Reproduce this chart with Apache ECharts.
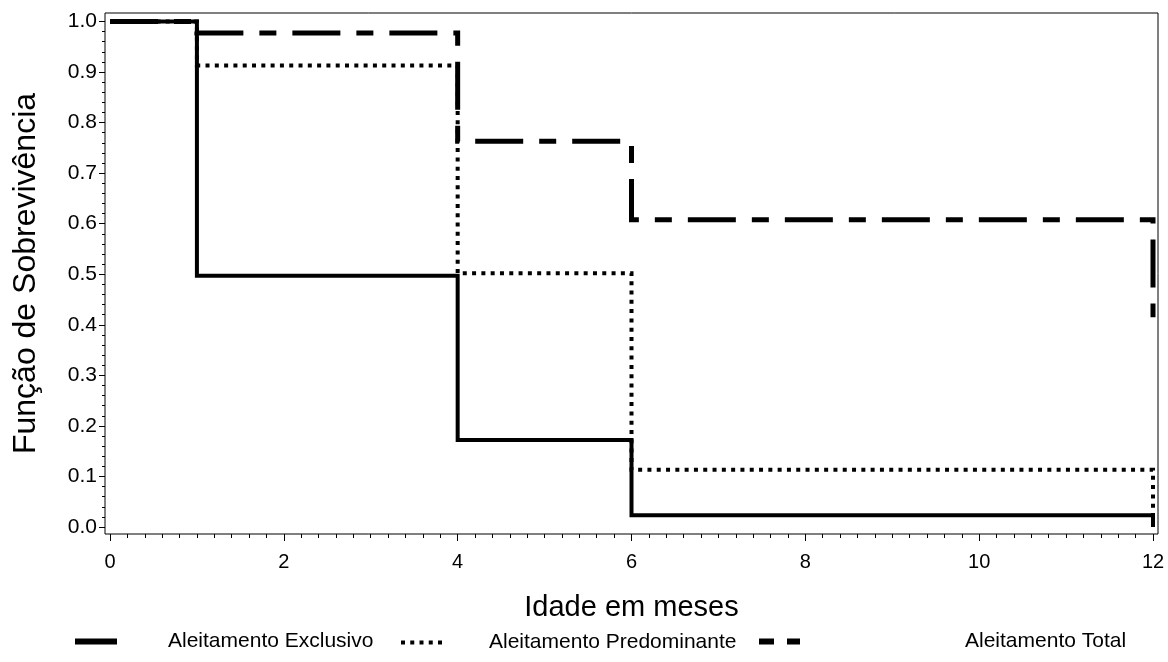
<!DOCTYPE html>
<html>
<head>
<meta charset="utf-8">
<script src="https://cdn.jsdelivr.net/npm/echarts@6/dist/echarts.min.js"></script>
<style>html,body{margin:0;padding:0;background:#fff}#c{width:1168px;height:662px}</style>
</head>
<body>
<div id="c"></div>
<script>
// Kaplan-Meier step points: [month, survival]
const exclusivo = [[0, 1.0], [1, 0.497], [4, 0.172], [6, 0.023], [12, 0.0]];
const predominante = [[0, 1.0], [1, 0.913], [4, 0.502], [6, 0.113], [12, 0.0]];
const total = [[0, 1.0], [1, 0.977], [4, 0.763], [6, 0.608], [12, 0.415]];
const seriesNames = ['Aleitamento Exclusivo', 'Aleitamento Predominante', 'Aleitamento Total'];
const xTicks = [0, 2, 4, 6, 8, 10, 12];
const yTicks = [0.0, 0.1, 0.2, 0.3, 0.4, 0.5, 0.6, 0.7, 0.8, 0.9, 1.0];
const xTitle = 'Idade em meses';
const yTitle = 'Função de Sobrevivência';

// minor tick positions (every 0.2 month, every 0.02 survival)
const xMinor = [];
for (let i = 0; i <= 60; i++) xMinor.push(+(i * 0.2).toFixed(2));
const yMinor = [];
for (let i = 0; i <= 50; i++) yMinor.push(+(i * 0.02).toFixed(2));

const FONT = 'Liberation Sans, Arial, sans-serif';
const chart = echarts.init(document.getElementById('c'), null, {renderer: 'canvas'});

const xMin = -0.0575, xMax = 12.0575;
const yMin = -0.0139, yMax = 1.0168;

chart.setOption({
  animation: false,
  backgroundColor: '#fff',
  textStyle: {fontFamily: FONT, color: '#000'},
  grid: {left: 105, top: 13, width: 1053, height: 521, show: true,
    borderColor: '#000', borderWidth: 1, backgroundColor: 'transparent'},
  xAxis: [
    {
      type: 'value', min: xMin, max: xMax, position: 'bottom',
      name: xTitle, nameLocation: 'middle', nameGap: 59,
      nameTextStyle: {fontSize: 29, color: '#000', fontFamily: FONT},
      axisLine: {show: false, onZero: false},
      axisTick: {show: true, inside: false, length: 7, customValues: xTicks, lineStyle: {color: '#000', width: 1}},
      axisLabel: {fontSize: 20, color: '#000', margin: 18, fontFamily: FONT, customValues: xTicks,
        formatter: v => String(Math.round(v))},
      splitLine: {show: false}
    },
    {
      type: 'value', min: xMin, max: xMax, position: 'bottom',
      axisLine: {show: false, onZero: false},
      axisTick: {show: true, inside: false, length: 4, customValues: xMinor, lineStyle: {color: '#000', width: 1}},
      axisLabel: {show: false},
      splitLine: {show: false}
    }
  ],
  yAxis: [
    {
      type: 'value', min: yMin, max: yMax, position: 'left',
      name: yTitle, nameLocation: 'middle', nameGap: 63,
      nameTextStyle: {fontSize: 32, color: '#000', fontFamily: FONT},
      axisLine: {show: false, onZero: false},
      axisTick: {show: true, inside: false, length: 6, customValues: yTicks, lineStyle: {color: '#000', width: 1}},
      axisLabel: {fontSize: 21, color: '#000', margin: 8, fontFamily: FONT, customValues: yTicks,
        formatter: v => v.toFixed(1)},
      splitLine: {show: false}
    },
    {
      type: 'value', min: yMin, max: yMax, position: 'left',
      axisLine: {show: false, onZero: false},
      axisTick: {show: true, inside: false, length: 3, customValues: yMinor, lineStyle: {color: '#000', width: 1}},
      axisLabel: {show: false},
      splitLine: {show: false}
    }
  ],
  legend: [
    {data: [seriesNames[0]], left: 70, top: 626, itemWidth: 42, itemHeight: 6, icon: 'rect', selectedMode: false,
      itemStyle: {color: '#000'},
      textStyle: {fontSize: 21, color: '#000', fontFamily: FONT, padding: [0, 0, 0, 46]}},
    {data: [seriesNames[1]], left: 396, top: 627, itemWidth: 41, itemHeight: 4, selectedMode: false,
      icon: 'path://M0,0H4V4H0Z M9.25,0H13.25V4H9.25Z M18.5,0H22.5V4H18.5Z M27.75,0H31.75V4H27.75Z M37,0H41V4H37Z',
      itemStyle: {color: '#000'},
      textStyle: {fontSize: 21, color: '#000', fontFamily: FONT, padding: [0, 0, 0, 42]}},
    {data: [seriesNames[2]], left: 754, top: 626, itemWidth: 41, itemHeight: 6, selectedMode: false,
      icon: 'path://M0,0H15V6H0Z M28,0H41V6H28Z',
      itemStyle: {color: '#000'},
      textStyle: {fontSize: 21, color: '#000', fontFamily: FONT, padding: [0, 0, 0, 160]}}
  ],
  series: [
    {name: seriesNames[0], type: 'line', step: 'end', data: exclusivo, symbol: 'none', clip: false,
      color: '#000',
      lineStyle: {color: '#000', width: 4, type: 'solid', cap: 'butt', join: 'miter'}},
    {name: seriesNames[1], type: 'line', step: 'end', data: predominante, symbol: 'none', clip: false,
      color: '#000',
      lineStyle: {color: '#000', width: 4, type: [4, 5.3], cap: 'butt', join: 'miter'}},
    {name: seriesNames[2], type: 'line', step: 'end', data: total, symbol: 'none', clip: false,
      color: '#000',
      lineStyle: {color: '#000', width: 5, type: [48, 16, 17, 16], cap: 'butt', join: 'miter'}}
  ]
});
</script>
</body>
</html>
